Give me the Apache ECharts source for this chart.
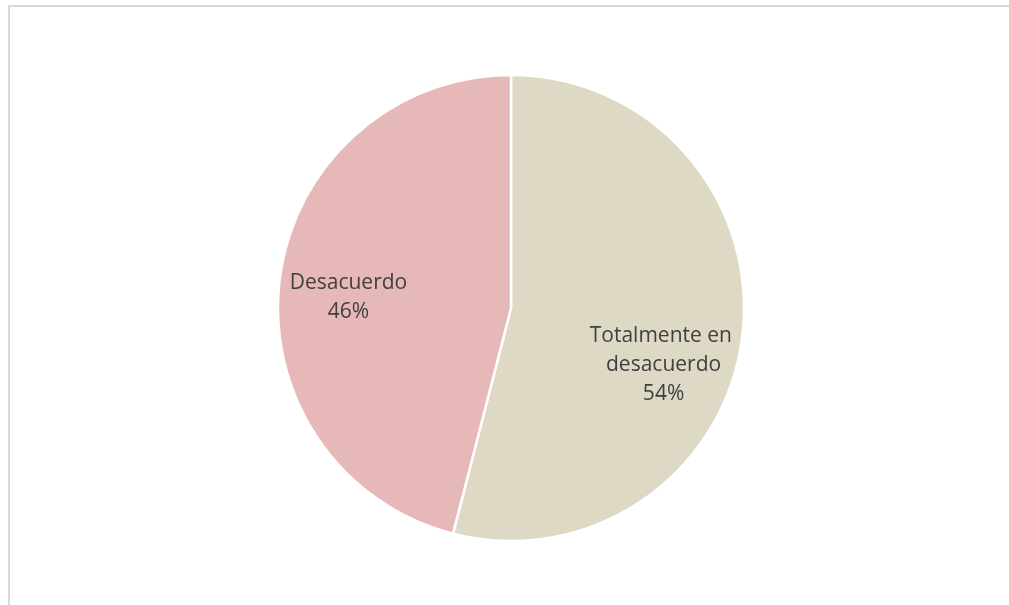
<!DOCTYPE html>
<html>
<head>
<meta charset="utf-8">
<script src="https://cdn.jsdelivr.net/npm/echarts@6/dist/echarts.min.js"></script>
<style>
  html, body { margin: 0; padding: 0; background: #fff; }
  #chart { width: 1009px; height: 605px; }
</style>
</head>
<body>
<div id="chart"></div>
<script>
// Response categories and their shares (percent)
const categories = ['Totalmente en desacuerdo', 'Desacuerdo'];
const shares = [54, 46];
const sliceColors = ['#DDD9C4', '#E6B8B7'];
// Label nudges from the default inside anchor, per slice
const labelOffsets = [[34, 42], [-44, 4]];

const chart = echarts.init(document.getElementById('chart'), null, { renderer: 'canvas' });

const data = categories.map((name, i) => ({
  name: name,
  value: shares[i],
  itemStyle: { color: sliceColors[i] },
  label: { offset: labelOffsets[i] }
}));

chart.setOption({
  animation: false,
  backgroundColor: '#ffffff',
  graphic: [{
    type: 'rect',
    shape: { x: 9, y: 6, width: 1100, height: 700 },
    style: { fill: 'none', stroke: '#d9d9d9', lineWidth: 2 },
    silent: true
  }],
  series: [{
    type: 'pie',
    center: [511, 308],
    radius: 233,
    startAngle: 90,
    clockwise: true,
    data: data,
    itemStyle: { borderColor: '#ffffff', borderWidth: 2.5 },
    label: {
      show: true,
      position: 'inside',
      formatter: '{b}\n{d}%',
      fontFamily: 'Open Sans',
      fontSize: 21,
      lineHeight: 29,
      color: '#404040',
      width: 165,
      overflow: 'break',
      align: 'center'
    },
    labelLine: { show: false },
    emphasis: { disabled: true }
  }]
});
</script>
</body>
</html>
